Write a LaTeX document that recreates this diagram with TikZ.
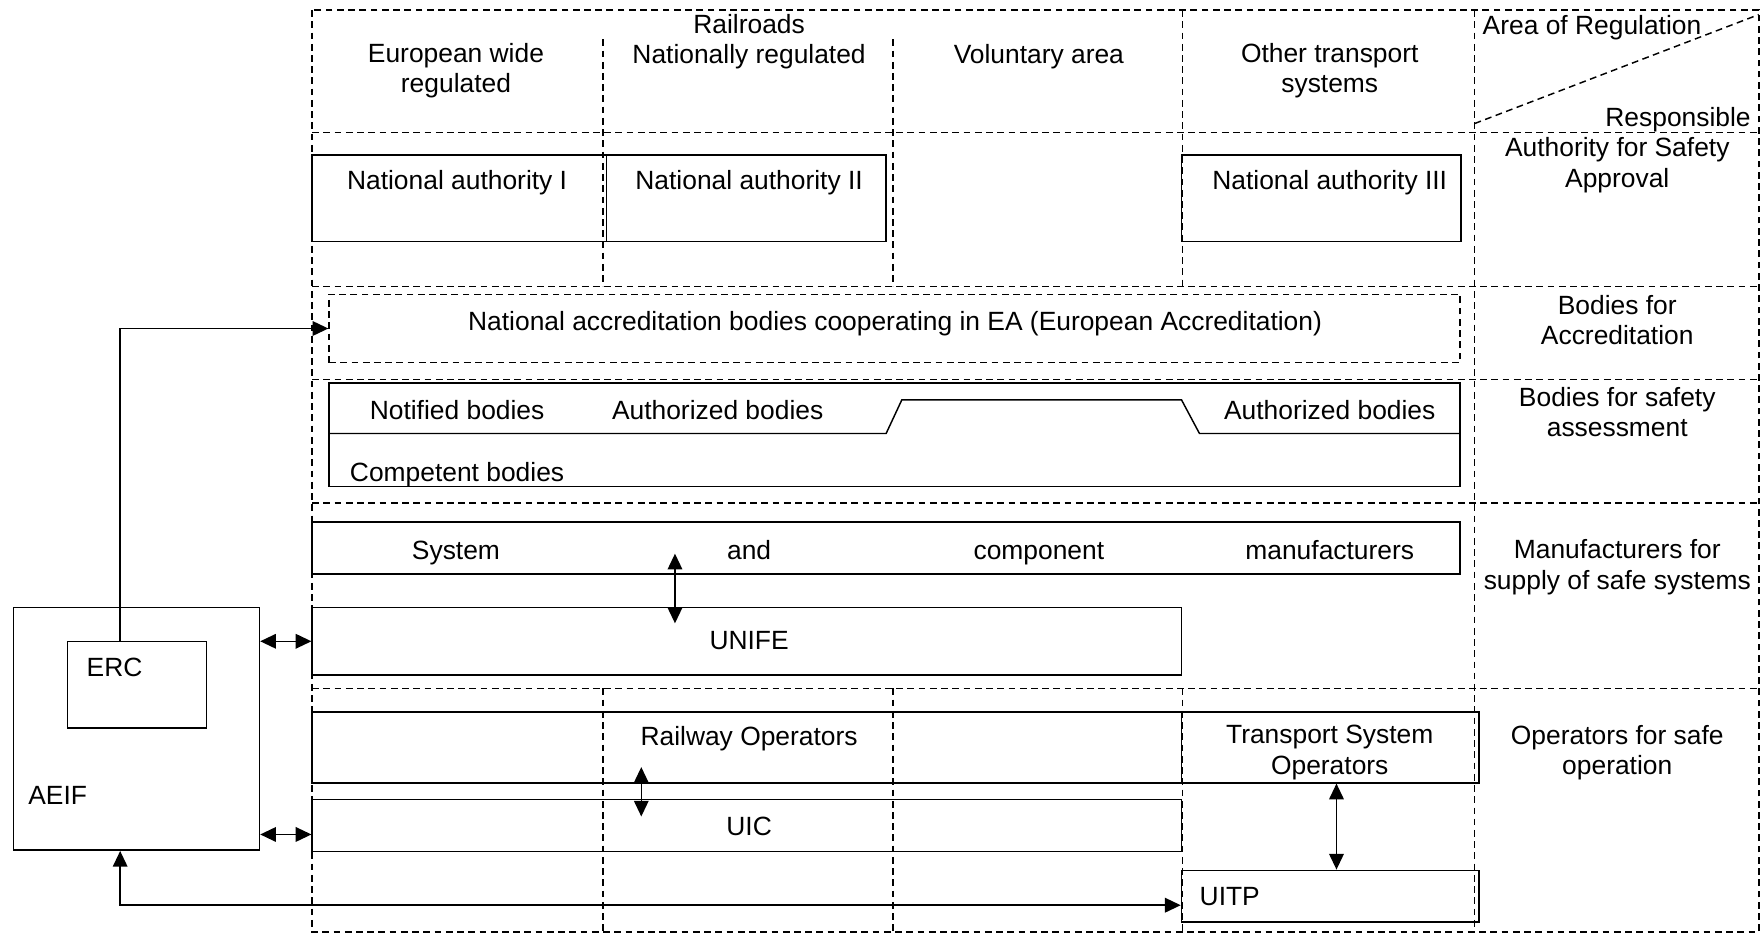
\documentclass[tikz,border=0pt]{standalone}
\usepackage{fontspec}
\setmainfont{Liberation Sans}
\usetikzlibrary{arrows.meta,calc}
\begin{document}
\begin{tikzpicture}[x=1pt,y=-1pt,
  every node/.style={font=\fontsize{23.5}{27}\selectfont, inner sep=0pt, align=center},
  lbl/.style={text height=20pt, text depth=3pt},
  grid/.style={line width=1.3pt, dash pattern=on 6pt off 4pt},
  box/.style={draw, line width=1.4pt, minimum width=#1},
  dbox/.style={draw, line width=1.3pt, dash pattern=on 6pt off 4pt, minimum width=#1},
  conn/.style={line width=1.3pt},
  biarrow/.style={conn, {Triangle[length=14pt,width=13pt]}-{Triangle[length=14pt,width=13pt]}},
  onearrow/.style={conn, -{Triangle[length=14pt,width=13pt]}}
]
\useasboundingbox (0,0) rectangle (1568,832);
% grid
\draw[grid] (278,9) rectangle (1566,830);
\foreach \yy in {118,255,338,448,613} \draw[grid] (278,\yy) -- (1566,\yy);
\draw[grid] (1313,9) -- (1313,830);
\draw[grid] (1053,9) -- (1053,255);
\draw[grid] (1053,613) -- (1053,830);
\foreach \xx in {537,795} {
  \draw[grid] (\xx,35) -- (\xx,255);
  \draw[grid] (\xx,613) -- (\xx,830);
}
\draw[grid] (1313,110) -- (1566,13);
% header texts
\node[lbl] (rail) at (667,21) {Railroads};
\node (euw) at (406,63) {European wide\\regulated};
\node[lbl] (natreg) at (667,48) {Nationally regulated};
\node[lbl] (vol) at (925,48) {Voluntary area};
\node (oth) at (1184,63) {Other transport\\systems};
\node[lbl, anchor=west] (area) at (1320,22) {Area of Regulation};
\node[lbl, anchor=east] (resp) at (1559,104) {Responsible};
% right column
\node (r1) at (1440,147) {Authority for Safety\\Approval};
\node (r2) at (1440,285) {Bodies for\\Accreditation};
\node (r3) at (1440,367) {Bodies for safety\\assessment};
\node (r4) at (1440,505) {Manufacturers for\\supply of safe systems};
\node (r5) at (1440,670) {Operators for safe\\operation};
% authority boxes
\node[box=262pt, minimum height=77pt] (na1) at (409,176.5) {};
\node[box=249pt, minimum height=77pt] (na2) at (664.5,176.5) {};
\node[box=249pt, minimum height=77pt] (na3) at (1176.5,176.5) {};
\node[lbl] (na1t) at (407,160) {National authority I};
\node[lbl] (na2t) at (667,160) {National authority II};
\node[lbl] (na3t) at (1184,160) {National authority III};
% accreditation
\node[dbox=1007pt, minimum height=61pt] (acc) at (796.5,292.5) {};
\node[lbl] (acct) at (797,286) {National accreditation bodies cooperating in EA (European Accreditation)};
% safety assessment
\node[box=1007pt, minimum height=92pt] (safe) at (796.5,387) {};
\draw[line width=1.3pt] (safe.west |- 0,386) -- (789,386) -- (803,356) -- (1052,356) -- (1068,386) -- (safe.east |- 0,386);
\node[lbl] (nb) at (407,365) {Notified bodies};
\node[lbl] (ab1) at (639,365) {Authorized bodies};
\node[lbl] (ab2) at (1184,365) {Authorized bodies};
\node[lbl] (cb) at (407,420) {Competent bodies};
% manufacturers
\node[box=1022pt, minimum height=46pt] (manu) at (789,488) {};
\node[lbl] (m1) at (406,490) {System};
\node[lbl] (m2) at (667,490) {and};
\node[lbl] (m3) at (925,490) {component};
\node[lbl] (m4) at (1184,490) {manufacturers};
\node[box=774pt, minimum height=60pt] (unife) at (665,571) {};
\node[lbl] (unifet) at (667,570) {UNIFE};
% operators
\node[box=774pt, minimum height=63pt] (railop) at (665,665.5) {};
\node[lbl] (railopt) at (667,655) {Railway Operators};
\node[box=265pt, minimum height=63pt] (tso) at (1184.5,665.5) {};
\node (tsot) at (1184,670) {Transport System\\Operators};
\node[box=774pt, minimum height=46pt] (uic) at (665,735) {};
\node[lbl] (uict) at (667,735) {UIC};
\node[box=265pt, minimum height=46pt] (uitp) at (1184.5,798) {};
\node[lbl, anchor=west] (uitpt) at (1068,798) {UITP};
% AEIF / ERC
\node[box=219pt, minimum height=216pt] (aeif) at (121.5,649) {};
\node[lbl, anchor=west] (aeift) at (25,708) {AEIF};
\node[box=124pt, minimum height=77pt] (erc) at (122,609.5) {};
\node[lbl, anchor=west] (erct) at (77,594) {ERC};
% connectors
\coordinate (ma) at (601,493);
\coordinate (mb) at (601,555);
\draw[biarrow] (ma) -- (mb);
\coordinate (ra) at (571,683);
\coordinate (rb) at (571,727);
\draw[biarrow] (ra) -- (rb);
\draw[biarrow] ([xshift=5.5pt]tso.south) -- ([xshift=5.5pt]uitp.north);
\draw[onearrow] ([xshift=-15pt]erc.north) |- (acc.west);
\draw[biarrow] (aeif.east |- unife.west) -- (unife.west);
\draw[biarrow] ([yshift=-8pt]aeif.east |- uic.west) -- ([yshift=-8pt]uic.west);
\draw[biarrow] ([xshift=-14.5pt]aeif.south) |- ([yshift=-8pt]uitp.west);
\end{tikzpicture}
\end{document}
